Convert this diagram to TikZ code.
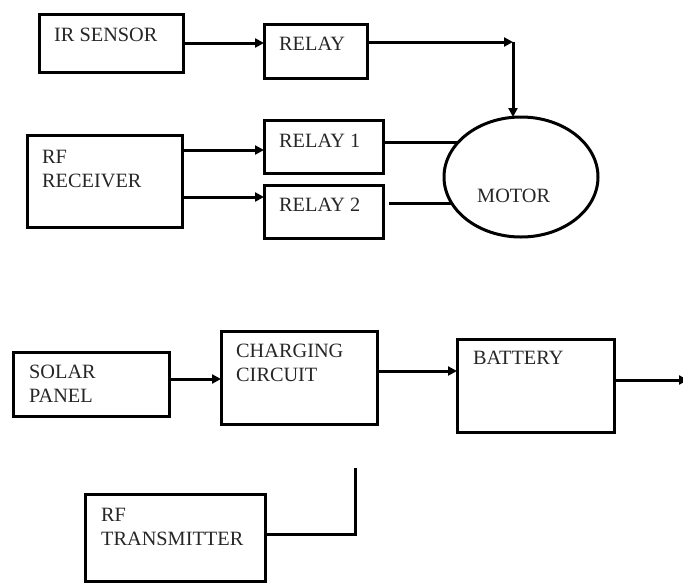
\documentclass[tikz,border=0pt]{standalone}
\usepackage{fontspec}
\setmainfont{Liberation Serif}
\usetikzlibrary{arrows.meta,shapes.geometric}
\begin{document}
\begin{tikzpicture}[x=1pt,y=-1pt,
  box/.style={draw,line width=3pt,inner sep=0pt,outer sep=0pt,anchor=north west},
  txt/.style={inner sep=0pt,align=left,font=\fontsize{20.3}{24}\selectfont,text=black!85},
  conn/.style={line width=3pt},
  arr/.style={line width=3pt,-{Triangle[length=9pt,width=9pt]}}]
\useasboundingbox (0,0) rectangle (683,582);
% top section
\node[box,minimum width=144pt,minimum height=58pt] (ir) at (39,14) {};
\node[box,minimum width=103pt,minimum height=54pt] (relay) at (264,24) {};
\node[box,minimum width=119pt,minimum height=53pt] (relayA) at (264,120) {};
\node[box,minimum width=119pt,minimum height=53pt] (relayB) at (264,185) {};
\node[box,minimum width=155pt,minimum height=92pt] (rfr) at (27,135) {};
\node[draw,ellipse,line width=3pt,inner sep=0pt,outer sep=0pt,minimum width=154pt,minimum height=120pt] (motor) at (521,177) {};
\node[txt,anchor=west] (irt) at (54,35) {IR SENSOR};
\node[txt,anchor=west] (relayt) at (279,44) {RELAY};
\node[txt,anchor=west] (relayAt) at (279,141) {RELAY 1};
\node[txt,anchor=west] (relayBt) at (279,205) {RELAY 2};
\node[txt,anchor=north west] (rfrt) at (42,150.3) {RF\\RECEIVER};
\node[txt,anchor=west] (motort) at (477,196) {MOTOR};
\coordinate (corner) at (513,42);
\draw[arr] (ir.east) -- (ir.east -| relay.west);
\draw[arr] ([yshift=9pt]relay.east) -- (corner);
\draw[arr] (corner) -- (corner |- motor.north);
\draw[arr] ([yshift=31pt]rfr.east) -- ([yshift=31pt]rfr.east -| relayA.west);
\draw[arr] ([yshift=-16pt]rfr.east) -- ([yshift=-16pt]rfr.east -| relayB.west);
\draw[conn] ([yshift=4.5pt]relayA.east) -- ([yshift=4.5pt]relayA.east -| motor.151);
\draw[conn] ([yshift=8.5pt,xshift=6pt]relayB.east) -- ([yshift=8.5pt]relayB.east -| motor.200);
% bottom section
\node[box,minimum width=156pt,minimum height=64pt] (solar) at (13,352) {};
\node[box,minimum width=156pt,minimum height=93pt] (charge) at (221,331) {};
\node[box,minimum width=157pt,minimum height=93pt] (battery) at (457,339) {};
\node[box,minimum width=180pt,minimum height=87pt] (rft) at (85,494) {};
\node[txt,anchor=north west] (solart) at (29,365.2) {SOLAR\\PANEL};
\node[txt,anchor=north west] (charget) at (236,344.2) {CHARGING\\CIRCUIT};
\node[txt,anchor=west] (batteryt) at (473,358) {BATTERY};
\node[txt,anchor=north west] (rftt) at (101,508.2) {RF\\TRANSMITTER};
\coordinate (outend) at (688,380);
\coordinate (rfend) at (355,468);
\draw[arr] ([yshift=5pt]solar.east) -- ([yshift=5pt]solar.east -| charge.west);
\draw[arr] ([yshift=6.5pt]charge.east) -- ([yshift=6.5pt]charge.east -| battery.west);
\draw[arr] ([yshift=5.5pt]battery.east) -- ([yshift=5.5pt]battery.east -| outend);
\draw[conn] ([yshift=3.5pt]rft.east) -| (rfend);
\end{tikzpicture}
\end{document}
